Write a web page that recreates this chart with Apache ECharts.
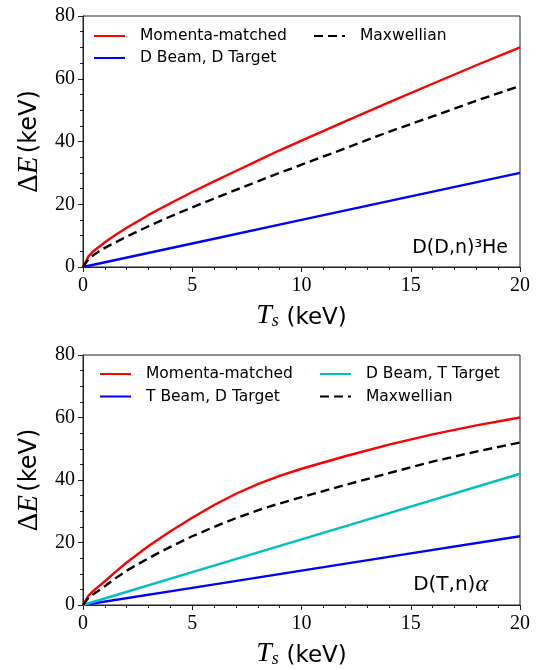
<!DOCTYPE html>
<html>
<head>
<meta charset="utf-8">
<script src="https://cdn.jsdelivr.net/npm/echarts@6/dist/echarts.min.js"></script>
<style>
html,body{margin:0;padding:0;background:#fff;}
#chart{width:538px;height:670px;}
</style>
</head>
<body>
<div id="chart"></div>
<script>
// Temperatures (keV) at which curves were read
const tCurve = [0,0.25,0.5,1,1.5,2,3,4,5,6,7,8,9,10,12,14,16,18,20];
const tLinear = [0,5,10,15,20];

// Top panel: D(D,n)3He
const ddMomenta = [0,3.4,5.2,7.9,10.3,12.5,16.6,20.3,23.9,27.3,30.6,33.9,37.2,40.3,46.4,52.5,58.4,64.3,70];
const ddMaxwell = [0,2.5,3.9,6.1,7.9,9.7,13.0,16.1,19.0,21.8,24.6,27.3,30.0,32.6,37.8,43.1,48.0,53.0,57.7];
const ddBeamD = [0,7.5,15,22.5,30];

// Bottom panel: D(T,n)alpha
const dtMomenta = [0,3.0,4.7,7.6,10.7,13.6,18.9,23.6,27.9,32.0,35.6,38.7,41.3,43.6,47.6,51.3,54.6,57.5,60];
const dtMaxwell = [0,2.3,3.6,6.0,8.6,11.0,15.0,18.6,22.0,25.0,27.8,30.3,32.5,34.5,38.4,42.2,45.9,49.1,52];
const tBeamDTarget = [0,5.5,11,16.5,22];
const dBeamTTarget = [0,10.5,21,31.5,42];

const xTicks = {min:0, max:20, interval:5};
const yTicks = {min:0, max:80, interval:20};

function pairs(xs, ys){ return xs.map((x,i)=>[x, ys[i]]); }

const serif = 'Liberation Serif';
const sans = 'DejaVu Sans';

function xAxisFor(g){
  return {
    gridIndex:g, type:'value', min:xTicks.min, max:xTicks.max, interval:xTicks.interval,
    axisLine:{show:true, onZero:false, lineStyle:{color:'#222', width:1}},
    axisTick:{show:true, length:5, lineStyle:{color:'#222', width:1}},
    minorTick:{show:true, splitNumber:5, length:3, lineStyle:{color:'#222', width:1}},
    splitLine:{show:false},
    axisLabel:{fontFamily:serif, fontSize:20, color:'#000', margin:9},
    name:'{t|T}{s|s}{g| }{k|(keV)}',
    nameLocation:'middle', nameGap:33,
    nameTextStyle:{
      rich:{
        t:{fontFamily:serif, fontStyle:'italic', fontSize:28, color:'#000', verticalAlign:'bottom', lineHeight:30},
        s:{fontFamily:serif, fontStyle:'italic', fontSize:18, color:'#000', verticalAlign:'bottom', lineHeight:22},
        g:{fontFamily:sans, fontSize:24, lineHeight:30, verticalAlign:'bottom'},
        k:{fontFamily:sans, fontSize:23, color:'#000', verticalAlign:'bottom', lineHeight:30}
      }
    }
  };
}
function yAxisFor(g){
  return {
    gridIndex:g, type:'value', min:yTicks.min, max:yTicks.max, interval:yTicks.interval,
    axisLine:{show:true, onZero:false, lineStyle:{color:'#222', width:1}},
    axisTick:{show:true, length:5, lineStyle:{color:'#222', width:1}},
    minorTick:{show:true, splitNumber:4, length:3, lineStyle:{color:'#222', width:1}},
    splitLine:{show:false},
    axisLabel:{fontFamily:serif, fontSize:20, color:'#000', margin:8},
    name:'{d|Δ}{e|E} {k|(keV)}',
    nameLocation:'middle', nameGap:35,
    nameTextStyle:{
      rich:{
        d:{fontFamily:serif, fontSize:29, color:'#000'},
        e:{fontFamily:serif, fontStyle:'italic', fontSize:29, color:'#000'},
        k:{fontFamily:sans, fontSize:24, color:'#000'}
      }
    }
  };
}

function line(name, xs, ys, color, g, dashed){
  return {
    name:name, type:'line', xAxisIndex:g, yAxisIndex:g,
    data:pairs(xs, ys), symbol:'none', smooth:false,
    lineStyle:{color:color, width:2.4, type: dashed ? [9,5] : 'solid'},
    itemStyle:{color:color},
    emphasis:{disabled:true}, animation:false
  };
}

const legendText = {fontFamily:sans, fontSize:15.5, color:'#000', lineHeight:18, padding:[0,0,0,10]};
function legend(names, left, top, gap){
  return {
    data:names, left:left, top:top, orient:'vertical', padding:0,
    itemWidth:31, itemHeight:14, itemGap:gap,
    itemStyle:{opacity:0},
    textStyle:legendText, selectedMode:false
  };
}

const option = {
  animation:false,
  backgroundColor:'#fff',
  grid:[
    {left:83, top:16, width:437, height:251, show:true, borderColor:'#222', borderWidth:1, backgroundColor:'transparent'},
    {left:83, top:355, width:437, height:250, show:true, borderColor:'#222', borderWidth:1, backgroundColor:'transparent'}
  ],
  xAxis:[xAxisFor(0), xAxisFor(1)],
  yAxis:[yAxisFor(0), yAxisFor(1)],
  legend:[
    legend(['Momenta-matched','D Beam, D Target'], 93, 27, 4),
    legend(['Maxwellian'], 313, 27, 4),
    legend(['Momenta-matched','T Beam, D Target'], 99, 365, 4.5),
    legend(['D Beam, T Target','Maxwellian'], 319, 365, 4.5)
  ],
  series:[
    line('Momenta-matched', tCurve, ddMomenta, '#ff0000', 0, false),
    line('D Beam, D Target', tLinear, ddBeamD, '#0000ff', 0, false),
    line('Maxwellian', tCurve, ddMaxwell, '#000000', 0, true),
    line('Momenta-matched', tCurve, dtMomenta, '#ff0000', 1, false),
    line('T Beam, D Target', tLinear, tBeamDTarget, '#0000ff', 1, false),
    line('D Beam, T Target', tLinear, dBeamTTarget, '#00bfbf', 1, false),
    line('Maxwellian', tCurve, dtMaxwell, '#000000', 1, true)
  ],
  graphic:[
    {type:'text', right:30, top:239, style:{text:'D(D,n)³He', font:'19px "DejaVu Sans"', fill:'#000'}},
    {type:'text', right:50, top:573, style:{
      text:'{a|D(T,n)}{b|α}',
      rich:{
        a:{fontFamily:sans, fontSize:20, fill:'#000'},
        b:{fontFamily:serif, fontStyle:'italic', fontSize:24, fill:'#000'}
      }
    }}
  ]
};

const chart = echarts.init(document.getElementById('chart'));
chart.setOption(option);
</script>
</body>
</html>
